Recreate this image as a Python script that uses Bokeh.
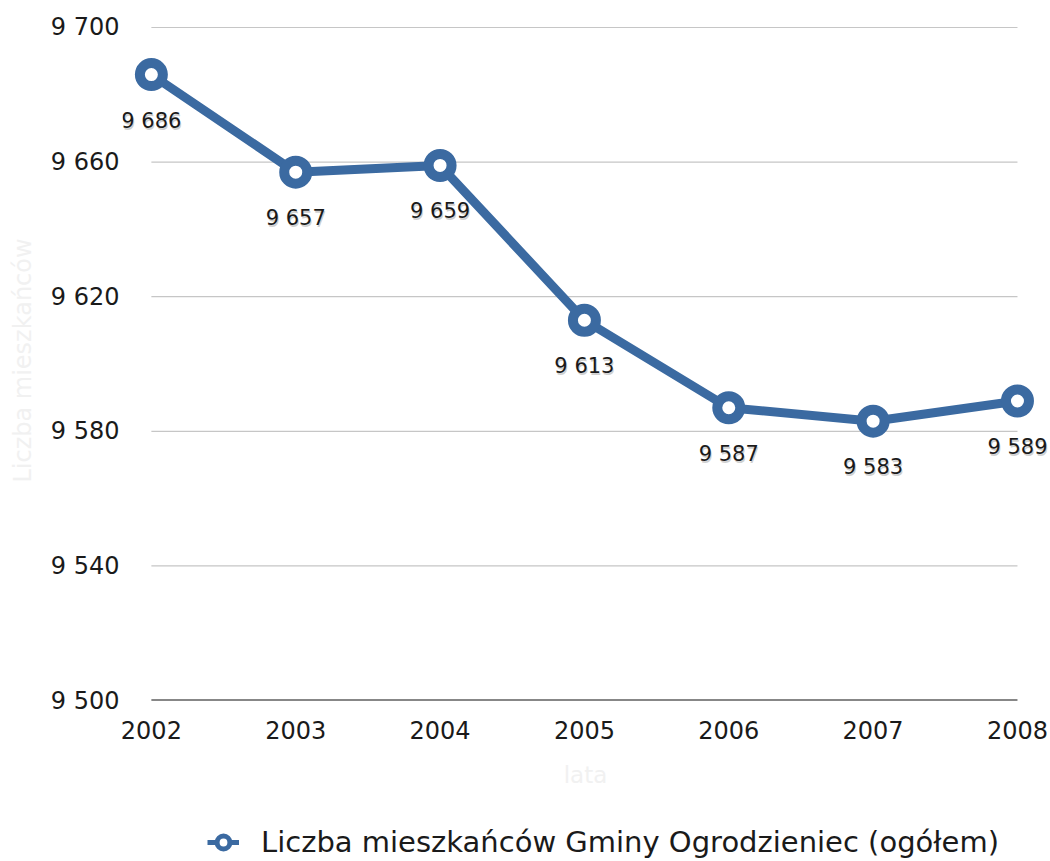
from bokeh.plotting import figure
from bokeh.layouts import column
from bokeh.models import FixedTicker, Range1d, ColumnDataSource, Legend, LegendItem
from bokeh.core.properties import value
from bokeh.embed import file_html
from bokeh.resources import INLINE

# ---- data ----
years = [2002, 2003, 2004, 2005, 2006, 2007, 2008]
population = [9686, 9657, 9659, 9613, 9587, 9583, 9589]
point_labels = ["9 686", "9 657", "9 659", "9 613", "9 587", "9 583", "9 589"]
y_ticks = [9500, 9540, 9580, 9620, 9660, 9700]
y_tick_labels = ["9 500", "9 540", "9 580", "9 620", "9 660", "9 700"]
x_tick_labels = ["2002", "2003", "2004", "2005", "2006", "2007", "2008"]
series_name = "Liczba mieszkańców Gminy Ogrodzieniec (ogółem)"
x_title = "lata"
y_title = "Liczba mieszkańców"

FONT = "DejaVu Sans"
BLUE = "#3b6aa1"
TEXT = "#1a1a1a"
FAINT = "#f1f1f1"

p = figure(width=1050, height=800,
           x_range=Range1d(2001.8, 2008.215), y_range=Range1d(9500, 9702.08),
           output_backend="svg", toolbar_location=None,
           min_border_left=122, min_border_right=2, min_border_top=20, min_border_bottom=100)
p.outline_line_color = None
p.xgrid.visible = False
p.ygrid.visible = False
p.background_fill_color = "white"
p.border_fill_color = "white"

# gridlines (only across the data span) and base axis line
grid_src = ColumnDataSource(dict(x0=[years[0]] * (len(y_ticks) - 1),
                                 x1=[years[-1]] * (len(y_ticks) - 1),
                                 y=y_ticks[1:]))
p.segment(x0="x0", x1="x1", y0="y", y1="y", source=grid_src, line_color="#c6c6c6", line_width=1.2)
p.segment(x0=[years[0]], x1=[years[-1]], y0=[y_ticks[0]], y1=[y_ticks[0]], line_color="#111111", line_width=2)

# series
src = ColumnDataSource(dict(x=years, y=population, label=point_labels))
p.line("x", "y", source=src, line_width=9, line_color=BLUE, line_join="round")
p.scatter("x", "y", source=src, size=23, fill_color="white", line_color=BLUE, line_width=10)

# data labels with soft shadow
p.text("x", "y", text="label", source=src, x_offset=1, y_offset=48,
       text_font=value(FONT), text_font_size=value("21px"), text_color="#777777", text_alpha=0.35,
       text_align="center", text_baseline="middle")
p.text("x", "y", text="label", source=src, x_offset=0, y_offset=46,
       text_font=value(FONT), text_font_size=value("21px"), text_color=TEXT,
       text_align="center", text_baseline="middle")

# axes
p.yaxis.ticker = FixedTicker(ticks=y_ticks)
p.yaxis.major_label_overrides = {t: s for t, s in zip(y_ticks, y_tick_labels)}
p.xaxis.ticker = FixedTicker(ticks=years)
p.xaxis.major_label_overrides = {t: s for t, s in zip(years, x_tick_labels)}
for ax in (p.xaxis, p.yaxis):
    ax.axis_line_color = None
    ax.major_tick_line_color = None
    ax.minor_tick_line_color = None
    ax.major_tick_out = 0
    ax.major_tick_in = 0
    ax.major_label_text_font = FONT
    ax.major_label_text_font_size = "24px"
    ax.major_label_text_color = TEXT
    ax.axis_label_text_font = FONT
    ax.axis_label_text_font_style = "normal"
    ax.axis_label_text_color = FAINT
p.yaxis.major_label_standoff = 3
p.yaxis.axis_label = y_title
p.yaxis.axis_label_text_font_size = "24px"
p.yaxis.axis_label_standoff = 11
p.xaxis.major_label_standoff = 20
p.xaxis.axis_label = x_title
p.xaxis.axis_label_text_font_size = "23px"
p.xaxis.axis_label_standoff = 20

# legend strip below the chart (separate figure so the legend is not clipped)
p2 = figure(width=1050, height=61, x_range=Range1d(0, 1), y_range=Range1d(0, 1),
            output_backend="svg", toolbar_location=None,
            min_border_left=0, min_border_right=0, min_border_top=0, min_border_bottom=0)
p2.axis.visible = False
p2.grid.visible = False
p2.outline_line_color = None
p2.background_fill_color = "white"
p2.border_fill_color = "white"
leg_line = p2.line([-10, -9], [0.5, 0.5], line_width=5, line_color=BLUE)
leg_marker = p2.scatter([-10], [0.5], size=23, fill_color="white", line_color=BLUE, line_width=5)
legend = Legend(items=[LegendItem(label=series_name, renderers=[leg_line, leg_marker])],
                location=(85, 2), orientation="horizontal",
                glyph_width=32, glyph_height=32, label_height=32, label_standoff=22,
                label_text_font=FONT, label_text_font_size="29px", label_text_color=TEXT,
                border_line_alpha=0, background_fill_alpha=0, padding=0, margin=0)
p2.add_layout(legend, "center")

layout = column(p, p2, spacing=0)
open("out.html", "w").write(file_html(layout, INLINE))
